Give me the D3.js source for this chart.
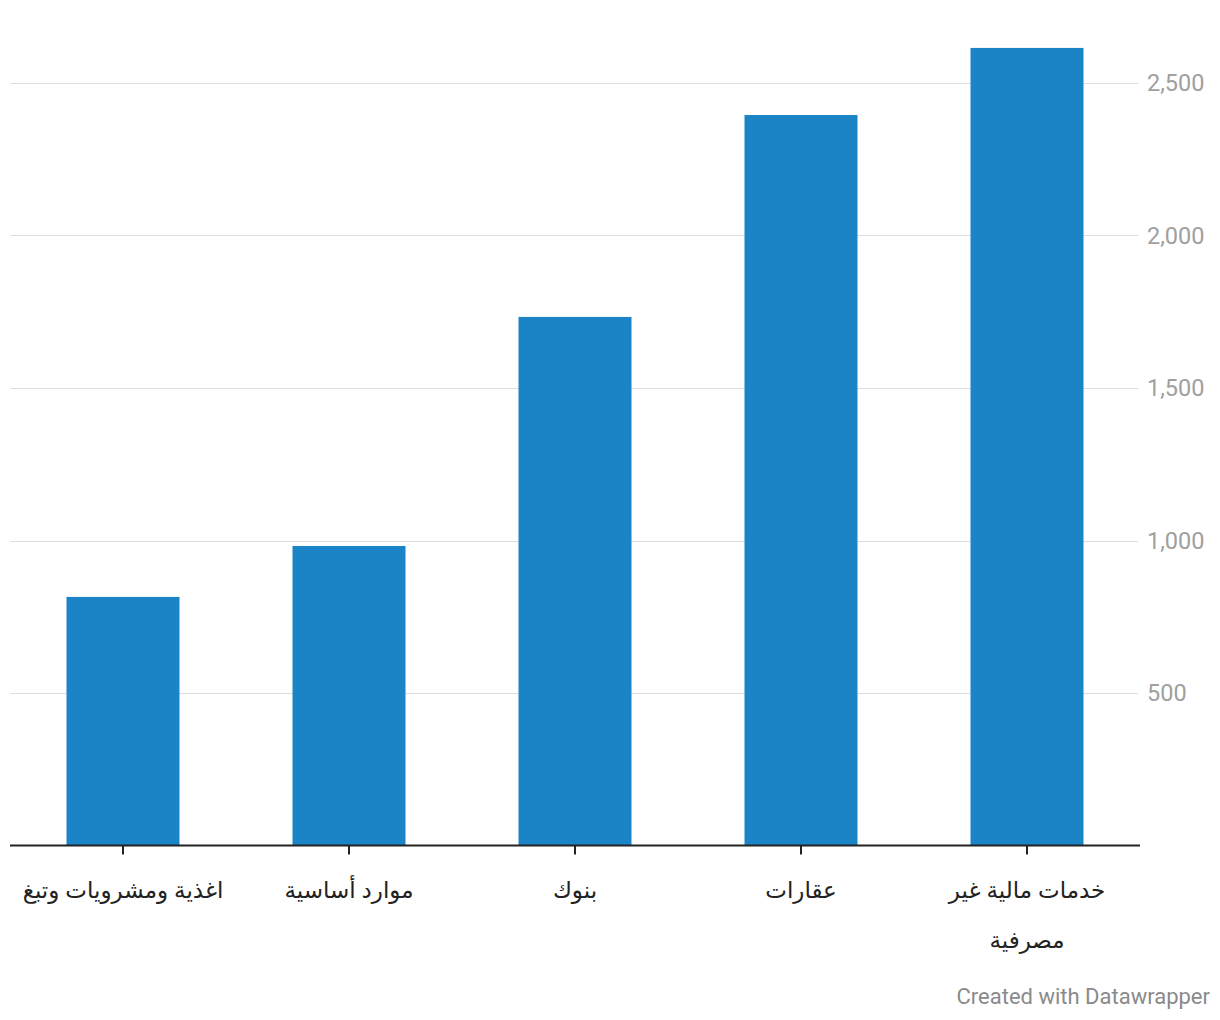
<!DOCTYPE html>
<html><head><meta charset="utf-8">
<script src="https://cdn.jsdelivr.net/npm/d3@7"></script>
<style>
html,body{margin:0;padding:0;background:#fff;}
svg{display:block;}
</style></head>
<body>
<script>
const categories = ["اغذية ومشرويات وتبغ", "موارد أساسية", "بنوك", "عقارات", "خدمات مالية غير مصرفية"];
const labelLines = [["اغذية ومشرويات وتبغ"], ["موارد أساسية"], ["بنوك"], ["عقارات"], ["خدمات مالية غير", "مصرفية"]];
const values = [815, 982, 1733, 2395, 2615];
const yTicks = [500, 1000, 1500, 2000, 2500];

const W = 1220, H = 1020;
const svg = d3.select("body").append("svg").attr("width", W).attr("height", H);

const x = d3.scaleBand().domain(categories).range([10, 1140]).paddingInner(0.5).paddingOuter(0.25);
const y = d3.scaleLinear().domain([0, 2500]).range([845.5, 83]);

// grid
const grid = svg.append("g");
grid.selectAll("line").data(yTicks).join("line")
  .attr("x1", 10).attr("x2", 1138)
  .attr("y1", d => Math.round(y(d)) + 0.5).attr("y2", d => Math.round(y(d)) + 0.5)
  .attr("stroke", "#dedede").attr("stroke-width", 1);
grid.selectAll("text").data(yTicks).join("text")
  .attr("x", 1147).attr("y", d => y(d))
  .attr("dy", "0.36em")
  .attr("font-family", "Roboto, sans-serif").attr("font-size", 23.5)
  .attr("fill", "#a0a0a0")
  .text(d => d3.format(",")(d));

// bars
svg.append("g").selectAll("rect").data(values).join("rect")
  .attr("x", (d, i) => x(categories[i]))
  .attr("width", x.bandwidth())
  .attr("y", d => y(d))
  .attr("height", d => y(0) - y(d))
  .attr("fill", "#1a84c7");

// axis
const xAxis = d3.axisBottom(x).tickSize(9).tickFormat("");
const ax = svg.append("g").attr("transform", `translate(0,${y(0)})`).call(xAxis);
ax.select(".domain").attr("stroke", "#222").attr("stroke-width", 2).attr("d", "M10,0H1140");
ax.selectAll(".tick line").attr("stroke", "#222").attr("stroke-width", 2);

// labels
const lab = svg.append("g");
categories.forEach((c, i) => {
  const t = lab.append("text")
    .attr("x", x(c) + x.bandwidth() / 2)
    .attr("y", 898)
    .attr("text-anchor", "middle")
    .attr("direction", "rtl")
    .attr("font-family", "'Noto Sans', 'DejaVu Sans', sans-serif")
    .attr("font-size", 23)
    .attr("fill", "#222");
  labelLines[i].forEach((line, j) => {
    t.append("tspan").attr("x", x(c) + x.bandwidth() / 2).attr("dy", j === 0 ? 0 : 50).text(line);
  });
});

svg.append("text")
  .attr("x", 1210).attr("y", 1004)
  .attr("text-anchor", "end")
  .attr("font-family", "Roboto, sans-serif").attr("font-size", 22)
  .attr("fill", "#8a8a8a")
  .text("Created with Datawrapper");
</script>
</body></html>
